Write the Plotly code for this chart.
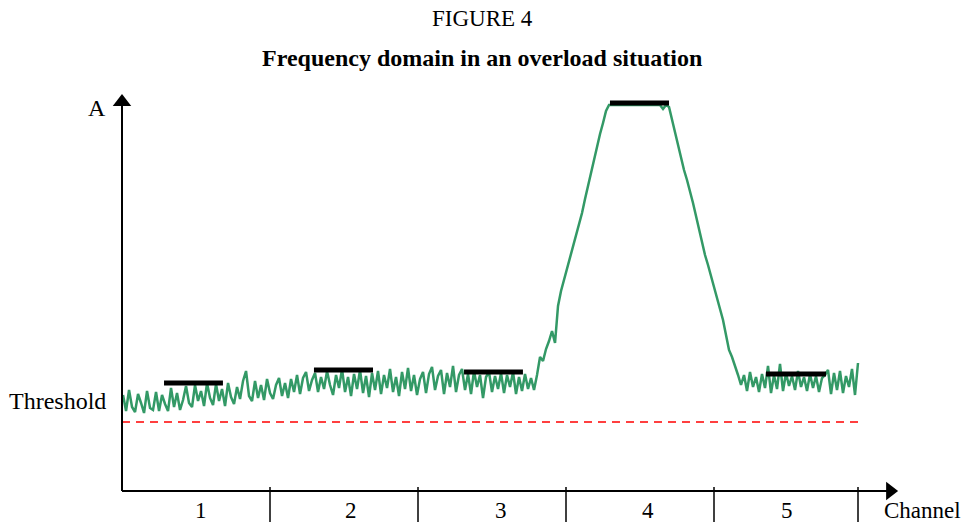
import numpy as np
import plotly.graph_objects as go

# Spectrum amplitude, one sample every ~3 px across channels 1-5
amp_ch1 = [96, 80, 101, 84, 79, 97, 88, 78, 100, 83, 81, 99, 80, 96, 87, 80, 103, 84, 98, 81,
           91, 105, 88, 84, 106, 90, 100, 85, 108, 93, 86, 107, 90, 102, 85, 108, 94, 87, 104, 92,
           110, 120, 95, 90, 110, 93, 106, 91, 112, 98]
amp_ch2 = [92, 106, 113, 95, 108, 93, 112, 99, 116, 97, 113, 119, 100, 111, 118, 99, 114, 102, 120, 106,
           96, 116, 103, 122, 99, 114, 95, 117, 102, 121, 98, 115, 94, 118, 101, 120, 97, 116, 103, 122,
           99, 114, 95, 119, 102, 123, 100, 116, 96]
amp_ch3 = [112, 119, 98, 117, 124, 101, 115, 121, 97, 118, 104, 125, 99, 116, 122, 101, 117, 97, 120, 104,
           116, 93, 114, 119, 99, 115, 102, 118, 98, 116, 104, 119, 97, 114, 100, 117, 102, 113, 101]
amp_rise = [116, 134, 130, 142, 150, 160, 148, 185, 200, 211, 222, 233, 244, 255, 266, 278, 292, 305, 318, 333,
            347, 357, 368, 380]
amp_top = [386, 386, 386, 386, 386, 386, 386, 386, 386, 386, 386, 386, 386, 386, 386, 386, 386, 386, 382, 386]
amp_fall = [384, 371, 360, 346, 333, 321, 311, 300, 288, 275, 261, 248, 236, 226, 215, 204, 193, 182, 171, 156,
            141, 134, 126, 116]
amp_ch5 = [106, 116, 100, 119, 104, 114, 99, 117, 103, 125, 98, 116, 102, 127, 100, 118, 105, 115, 101, 120,
           104, 114, 100, 117, 103, 115, 99, 113, 116, 121, 97, 118, 101, 120, 98, 115, 104, 122, 96, 128]
amplitude = amp_ch1 + amp_ch2 + amp_ch3 + amp_rise + amp_top + amp_fall + amp_ch5
freq = np.linspace(0.007, 4.973, len(amplitude))

# Mean level per channel (black bars)
channels = ["1", "2", "3", "4", "5"]
bar_start = [0.284, 1.297, 2.311, 3.297, 4.351]
bar_end = [0.682, 1.696, 2.709, 3.696, 4.757]
bar_level = [108, 121, 119, 388, 117]
label_pos = [0.534, 1.547, 2.56, 3.554, 4.49]
channel_edges = [1, 2, 3, 4, 4.973]
threshold = 69

FONT = "Liberation Serif, Times New Roman, serif"

fig = go.Figure()

fig.add_trace(go.Scatter(x=freq, y=amplitude, mode="lines",
                         line=dict(color="#339966", width=2.5), hoverinfo="skip"))

bx, by = [], []
for s, e, lv in zip(bar_start, bar_end, bar_level):
    bx += [s, e, None]
    by += [lv, lv, None]
fig.add_trace(go.Scatter(x=bx, y=by, mode="lines", line=dict(color="black", width=5), hoverinfo="skip"))

# threshold line
fig.add_trace(go.Scatter(x=[0, 4.973], y=[threshold, threshold], mode="lines",
                         line=dict(color="#ff0000", width=1.5, dash="8px,6px"), hoverinfo="skip"))

# axes with arrows
fig.add_shape(type="line", x0=0, x1=0, y0=0, y1=392, line=dict(color="black", width=2))
fig.add_shape(type="line", x0=0, x1=5.2, y0=0, y1=0, line=dict(color="black", width=2))
for xe in channel_edges:
    fig.add_shape(type="line", x0=xe, x1=xe, y0=4, y1=-31, line=dict(color="black", width=1.5))
fig.add_trace(go.Scatter(x=[0], y=[389], mode="markers",
                         marker=dict(symbol="triangle-up", size=16, color="black"), hoverinfo="skip"))
fig.add_trace(go.Scatter(x=[5.19], y=[0], mode="markers",
                         marker=dict(symbol="triangle-right", size=16, color="black"), hoverinfo="skip"))

for ch, xp in zip(channels, label_pos):
    fig.add_annotation(x=xp, y=-19, text=ch, showarrow=False, font=dict(size=23))
fig.add_annotation(x=5.135, y=-19, text="Channel", showarrow=False, xanchor="left", font=dict(size=23))
fig.add_annotation(x=-0.095, y=90, text="Threshold", showarrow=False, xanchor="right", font=dict(size=24))
fig.add_annotation(x=-0.095, y=383, text="A", showarrow=False, xanchor="right", font=dict(size=24))

fig.add_annotation(x=0.5, y=1 - 19 / 522, xref="paper", yref="paper", yanchor="middle",
                   text="FIGURE 4", showarrow=False, font=dict(size=23))
fig.add_annotation(x=0.5, y=1 - 58 / 522, xref="paper", yref="paper", yanchor="middle",
                   text="<b>Frequency domain in an overload situation</b>", showarrow=False, font=dict(size=24))

fig.update_layout(
    width=964, height=522, margin=dict(l=0, r=0, t=0, b=0),
    plot_bgcolor="white", paper_bgcolor="white", showlegend=False,
    font=dict(family=FONT, color="black"),
    xaxis=dict(range=[-122 / 148, 842 / 148], visible=False, domain=[0, 1]),
    yaxis=dict(range=[-31, 491], visible=False, domain=[0, 1]),
)

# the page body has a default 8px margin; drop it so the figure fills the window
fig.write_html("out.html", config={"displayModeBar": False},
               post_script="document.body.style.margin='0';")
